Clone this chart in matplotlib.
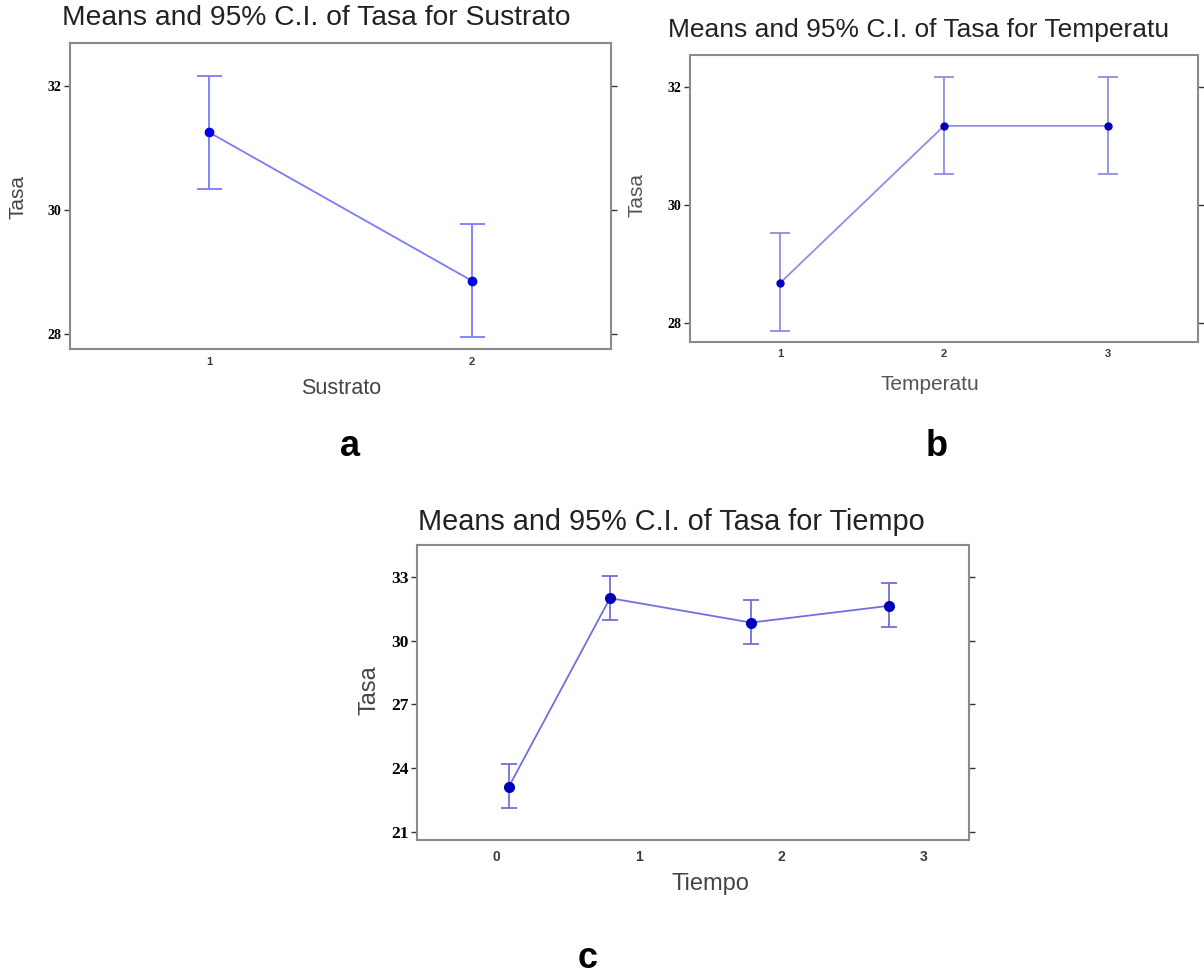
import matplotlib
matplotlib.use("Agg")
import matplotlib.pyplot as plt

# Means and 95% C.I. of Tasa
sustrato_x = [1, 2]
sustrato_mean = [31.25, 28.86]
sustrato_lo = [30.34, 27.95]
sustrato_hi = [32.16, 29.77]

temp_x = [1, 2, 3]
temp_mean = [28.68, 31.34, 31.34]
temp_lo = [27.86, 30.52, 30.52]
temp_hi = [29.53, 32.17, 32.17]

tiempo_x = [0.09, 0.80, 1.79, 2.76]
tiempo_mean = [23.13, 32.0, 30.85, 31.64]
tiempo_lo = [22.11, 30.98, 29.83, 30.65]
tiempo_hi = [24.2, 33.05, 31.93, 32.73]

W, H = 1204, 975
fig = plt.figure(figsize=(W / 100, H / 100), dpi=100)


def box(l, t, r, b):
    # pixel box -> figure fraction
    return [l / W, 1 - b / H, (r - l) / W, (b - t) / H]


def txt(x, y, s, **kw):
    fig.text(x / W, 1 - y / H, s, ha="center", va="center", **kw)


def panel(rect, x, mean, lo, hi, xlim, ylim, yticks, xticks, col, lcol, cap, ms,
          ytsize, xtsize, xpad):
    ax = fig.add_axes(rect)
    err = [[m - l for m, l in zip(mean, lo)], [h - m for m, h in zip(mean, hi)]]
    ax.errorbar(x, mean, yerr=err, fmt="none", ecolor=lcol, elinewidth=1.3,
                capsize=cap, capthick=1.3, zorder=2)
    ax.plot(x, mean, color=lcol, lw=1.3, zorder=3)
    ax.plot(x, mean, "o", color=col, ms=ms, zorder=4)
    ax.set_xlim(xlim)
    ax.set_ylim(ylim)
    ax.set_yticks(yticks)
    ax.set_xticks(xticks)
    ax.set_yticklabels([str(v) for v in yticks], family="Liberation Serif",
                       fontweight="bold", fontsize=ytsize)
    ax.set_xticklabels([str(v) for v in xticks], family="Liberation Sans",
                       fontweight="bold", fontsize=xtsize, color="#3a3a3a")
    ax.tick_params(axis="y", left=True, right=True, direction="out", length=4,
                   width=1, color="#333333", pad=2)
    ax.tick_params(axis="x", bottom=False, length=0, pad=xpad)
    for sp in ax.spines.values():
        sp.set_color("#8a8a8a")
        sp.set_linewidth(1.5)
    return ax


panel(box(70, 43, 611, 349), sustrato_x, sustrato_mean, sustrato_lo, sustrato_hi,
      (0.47, 2.53), (27.76, 32.69), [28, 30, 32], [1, 2],
      "#0000ee", "#7a7aff", 9, 6, 10, 8, 6)

panel(box(690, 55, 1198, 342), temp_x, temp_mean, temp_lo, temp_hi,
      (0.45, 3.55), (27.68, 32.54), [28, 30, 32], [1, 2, 3],
      "#0000bb", "#8f8fe0", 7, 5, 10, 8, 4.7)

panel(box(417, 545, 969, 840), tiempo_x, tiempo_mean, tiempo_lo, tiempo_hi,
      (-0.555, 3.32), (20.62, 34.5), [21, 24, 27, 30, 33], [0, 1, 2, 3],
      "#0000bb", "#7070dd", 5.5, 7, 12.5, 10, 7.5)

sans = "Liberation Sans"
txt(316, 18, "Means and 95% C.I. of Tasa for Sustrato", family=sans, fontsize=20.3, color="#222222")
txt(919, 30, "Means and 95% C.I. of Tasa for Temperatu", family=sans, fontsize=19, color="#222222")
txt(671, 522, "Means and 95% C.I. of Tasa for Tiempo", family=sans, fontsize=20.8, color="#222222")

txt(18, 197, "Tasa", family=sans, fontsize=15, color="#444444", rotation=90)
txt(637, 195, "Tasa", family=sans, fontsize=15, color="#555555", rotation=90)
txt(369, 690, "Tasa", family=sans, fontsize=17, color="#444444", rotation=90)

txt(341, 389, "Sustrato", family=sans, fontsize=15.5, color="#444444")
txt(930, 384, "Temperatu", family=sans, fontsize=15, color="#555555")
txt(710, 884, "Tiempo", family=sans, fontsize=17, color="#444444")

txt(350, 447, "a", family=sans, fontsize=26, fontweight="bold")
txt(937, 447, "b", family=sans, fontsize=26, fontweight="bold")
txt(588, 958, "c", family=sans, fontsize=26, fontweight="bold")

fig.savefig("out.png", dpi=100)
